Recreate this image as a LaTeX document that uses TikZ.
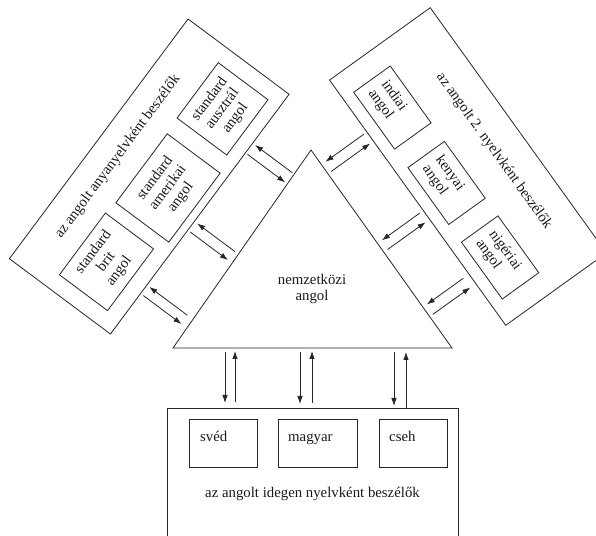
\documentclass[tikz,border=0pt]{standalone}
\usepackage{fontspec}
\setmainfont{Liberation Serif}
\usetikzlibrary{arrows.meta}
\begin{document}
\begin{tikzpicture}[x=1pt,y=1pt,
  ln/.style={line width=0.8pt, draw=black!85},
  txt/.style={inner sep=0pt, font=\fontsize{14.8}{16}\selectfont, text=black!90},
  box/.style={ln, txt, inner sep=0pt},
  arr/.style={ln, -{Latex[length=8pt,width=5.5pt]}}]
\useasboundingbox (0,0) rectangle (596,535);
\clip (0,0) rectangle (596,535);
% ---------------- triangle
\coordinate (apex) at (311,385);
\coordinate (tbl) at (173,187);
\coordinate (tbr) at (452,187);
\draw[ln] (apex) -- (tbl) -- (tbr) -- cycle;
\node[txt, align=center] (nk) at (312,246) {nemzetközi\\angol};
% ---------------- left box (native speakers)
\begin{scope}[shift={(149.25,358.5)}, rotate=53.3, transform shape]
  \node[box, minimum width=299pt, minimum height=126pt] (nat) at (0,0) {};
  \node[txt] (natT) at (-3,37) {az angolt anyanyelvként beszélők};
  \node[box, align=center, minimum width=77pt, minimum height=60pt] (brit) at (-94,-16.7) {standard\\brit\\angol};
  \node[box, align=center, minimum width=86pt, minimum height=66pt] (amer) at (2,-21.9) {standard\\amerikai\\angol};
  \node[box, align=center, minimum width=69pt, minimum height=62pt] (ausz) at (98,-18.3) {standard\\ausztrál\\angol};
  \coordinate (la1) at (88.5,-66);   \coordinate (ta1) at (88.5,-112.5);
  \coordinate (lb1) at (76.5,-65.5); \coordinate (tb1) at (76.5,-112.5);
  \coordinate (la2) at (-9,-66.5);   \coordinate (ta2) at (-9,-113.5);
  \coordinate (lb2) at (-20,-66);    \coordinate (tb2) at (-20,-113);
  \coordinate (la3) at (-88.5,-66);  \coordinate (ta3) at (-88.5,-113.5);
  \coordinate (lb3) at (-99,-66.5);  \coordinate (tb3) at (-99,-114);
\end{scope}
\draw[arr] (ta1) -- (la1);
\draw[arr] (lb1) -- (tb1);
\draw[arr] (ta2) -- (la2);
\draw[arr] (lb2) -- (tb2);
\draw[arr] (ta3) -- (la3);
\draw[arr] (lb3) -- (tb3);
% ---------------- right box (second language speakers)
\begin{scope}[shift={(468,368.5)}, rotate=-54.3, transform shape]
  \node[box, minimum width=302pt, minimum height=124pt] (sec) at (0,0) {};
  \node[txt] (secT) at (2.6,30.2) {az angolt 2. nyelvként beszélők};
  \node[box, align=left, text width=51pt, inner xsep=9.5pt, minimum height=45pt] (ind) at (-92,-27) {indiai\\angol};
  \node[box, align=left, text width=51pt, inner xsep=9.5pt, minimum height=45pt] (ken) at (0.85,-27) {kenyai\\angol};
  \node[box, align=left, text width=51pt, inner xsep=9.5pt, minimum height=45pt] (nig) at (92.6,-27) {nigériai\\angol};
  \coordinate (ra1) at (-87,-65.5);   \coordinate (sa1) at (-87,-113);
  \coordinate (rb1) at (-75.8,-66);   \coordinate (sb1) at (-75.8,-114);
  \coordinate (ra2) at (9.7,-66.6);   \coordinate (sa2) at (9.7,-113);
  \coordinate (rb2) at (20.5,-67);    \coordinate (sb2) at (20.5,-113.7);
  \coordinate (ra3) at (88,-69);      \coordinate (sa3) at (88,-114);
  \coordinate (rb3) at (99.6,-68.7);  \coordinate (sb3) at (99.6,-115);
\end{scope}
\draw[arr] (ra1) -- (sa1);
\draw[arr] (sb1) -- (rb1);
\draw[arr] (ra2) -- (sa2);
\draw[arr] (sb2) -- (rb2);
\draw[arr] (ra3) -- (sa3);
\draw[arr] (sb3) -- (rb3);
% ---------------- bottom box (foreign language speakers)
\node[box, anchor=north west, minimum width=291pt, minimum height=145pt] (for) at (167,127) {};
\node[txt, anchor=base] (forT) at (312.5,38) {az angolt idegen nyelvként beszélők};
\node[box, anchor=north west, minimum width=68pt, minimum height=48pt] (sved) at (189,116) {};
\node[box, anchor=north west, minimum width=79pt, minimum height=48pt] (magy) at (278,116) {};
\node[box, anchor=north west, minimum width=68pt, minimum height=48pt] (cseh) at (379,116) {};
\node[txt, anchor=base west] (svedT) at ([xshift=11pt,yshift=-23pt]sved.north west) {svéd};
\node[txt, anchor=base west] (magyT) at ([xshift=10pt,yshift=-23pt]magy.north west) {magyar};
\node[txt, anchor=base west] (csehT) at ([xshift=10pt,yshift=-23pt]cseh.north west) {cseh};
\coordinate (d1s) at (225,183); \coordinate (d1e) at (225,132);
\coordinate (u1s) at (235,133); \coordinate (u1e) at (235,184);
\coordinate (d2s) at (300,183); \coordinate (d2e) at (300,131);
\coordinate (u2s) at (312,132); \coordinate (u2e) at (312,184);
\coordinate (d3s) at (394,183); \coordinate (d3e) at (394,129);
\coordinate (u3s) at (406,127); \coordinate (u3e) at (406,183);
\draw[arr] (d1s) -- (d1e);
\draw[arr] (u1s) -- (u1e);
\draw[arr] (d2s) -- (d2e);
\draw[arr] (u2s) -- (u2e);
\draw[arr] (d3s) -- (d3e);
\draw[arr] (u3s) -- (u3e);
\end{tikzpicture}
\end{document}
